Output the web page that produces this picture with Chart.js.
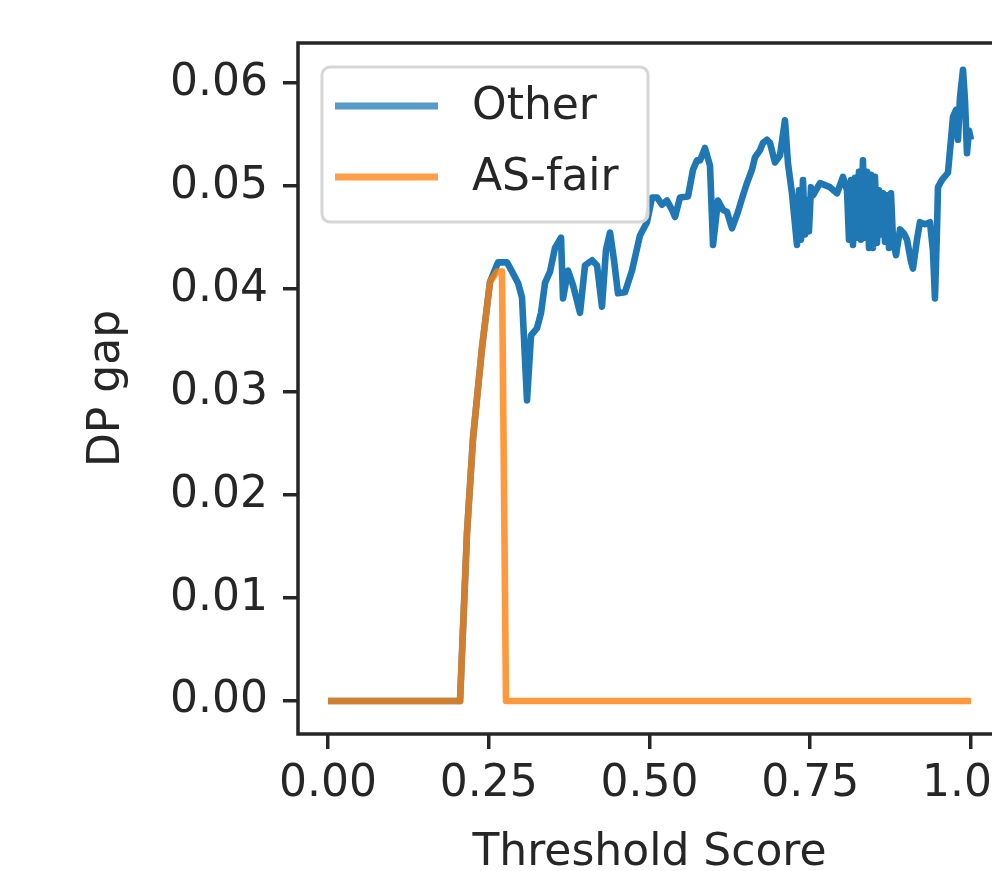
<!DOCTYPE html>
<html>
<head>
<meta charset="utf-8">
<script src="https://cdn.jsdelivr.net/npm/chart.js@4.4.1/dist/chart.umd.min.js"></script>
<style>
  html, body { margin: 0; padding: 0; background: #fff; overflow: hidden; }
  #chart { position: absolute; left: 0; top: 0; }
</style>
</head>
<body>
<canvas id="chart" width="1040" height="871"></canvas>
<script>
const xTicks = [0, 0.25, 0.5, 0.75, 1.0];
const yTicks = [0, 0.01, 0.02, 0.03, 0.04, 0.05, 0.06];

const seriesLabels = ["Other", "AS-fair"];

const otherX = [
  0, 0.2053, 0.2162, 0.2255, 0.2395, 0.2519, 0.2644, 0.2784, 0.2862, 0.2955, 0.3017,
  0.3095, 0.3157, 0.3250, 0.3313, 0.3375, 0.3453, 0.3530, 0.3624, 0.3655, 0.3733,
  0.3810, 0.3919, 0.3997, 0.4106, 0.4184, 0.4261, 0.4323, 0.4386, 0.4448, 0.4510,
  0.4619, 0.4728, 0.4852, 0.4961, 0.5039, 0.5117, 0.5194, 0.5272, 0.5350, 0.5397,
  0.5474, 0.5599, 0.5677, 0.5739, 0.5785, 0.5863, 0.5941, 0.5988, 0.6065, 0.6143,
  0.6205, 0.6283, 0.6376, 0.6454, 0.6516, 0.6594, 0.6641, 0.6719, 0.6765, 0.6827,
  0.6874, 0.6952, 0.7030, 0.7107, 0.7154, 0.7216, 0.7294, 0.7325, 0.7356, 0.7387,
  0.7418, 0.7449, 0.7480, 0.7512, 0.7543, 0.7652, 0.7729, 0.7807, 0.7916, 0.8009,
  0.8072, 0.8103, 0.8134, 0.8165, 0.8196, 0.8227, 0.8258, 0.8289, 0.8320, 0.8351,
  0.8383, 0.8414, 0.8445, 0.8476, 0.8507, 0.8538, 0.8569, 0.8600, 0.8631, 0.8663,
  0.8694, 0.8725, 0.8756, 0.8787, 0.8834, 0.8896, 0.8958, 0.9005, 0.9067, 0.9098,
  0.9160, 0.9207, 0.9285, 0.9362, 0.9409, 0.9440, 0.9471, 0.9487, 0.9549, 0.9642,
  0.9689, 0.9720, 0.9767, 0.9798, 0.9829, 0.9876, 0.9907, 0.9938, 0.9969, 1.0
];
const otherY = [
  0, 0, 0.0164, 0.0255, 0.0343, 0.0407, 0.0426, 0.0426, 0.0417, 0.0406, 0.0392,
  0.0292, 0.0355, 0.0362, 0.0377, 0.0406, 0.0417, 0.0440, 0.0450, 0.0391, 0.0418,
  0.0404, 0.0377, 0.0423, 0.0428, 0.0423, 0.0383, 0.0438, 0.0455, 0.0428, 0.0396,
  0.0397, 0.0418, 0.0452, 0.0465, 0.0489, 0.0489, 0.0482, 0.0486, 0.0477, 0.0470,
  0.0489, 0.0490, 0.0516, 0.0525, 0.0525, 0.0537, 0.0520, 0.0443, 0.0486, 0.0477,
  0.0475, 0.0459, 0.0475, 0.0491, 0.0503, 0.0516, 0.0528, 0.0535, 0.0542, 0.0545,
  0.0542, 0.0523, 0.0530, 0.0564, 0.0522, 0.0493, 0.0443, 0.0496, 0.0448, 0.0506,
  0.0453, 0.0486, 0.0456, 0.0499, 0.0491, 0.0503, 0.0501, 0.0499, 0.0493, 0.0509,
  0.0496, 0.0448, 0.0506, 0.0443, 0.0508, 0.0450, 0.0514, 0.0448, 0.0525, 0.0450,
  0.0514, 0.0440, 0.0511, 0.0440, 0.0509, 0.0445, 0.0496, 0.0453, 0.0493, 0.0446,
  0.0491, 0.0440, 0.0493, 0.0448, 0.0433, 0.0458, 0.0454, 0.0448, 0.0427, 0.0420,
  0.0448, 0.0465, 0.0463, 0.0465, 0.0437, 0.0391, 0.0457, 0.0499, 0.0506, 0.0513,
  0.0545, 0.0567, 0.0574, 0.0545, 0.0586, 0.0613, 0.0583, 0.0532, 0.0554, 0.0545
];

const asFairX = [0, 0.2053, 0.2162, 0.2255, 0.2395, 0.2519, 0.2628, 0.2706, 0.2768, 1.0];
const asFairY = [0, 0, 0.0164, 0.0255, 0.0343, 0.0407, 0.0417, 0.0417, 0, 0];

const FONT = "'DejaVu Sans', sans-serif";
const INK = "#262626";

function points(xs, ys) {
  return xs.map((x, i) => ({ x, y: ys[i] }));
}

const frame = {
  id: "frame",
  afterDraw(chart) {
    const { ctx, chartArea: a } = chart;
    ctx.save();
    ctx.strokeStyle = INK;
    ctx.lineWidth = 3.5;
    ctx.strokeRect(a.left, a.top, a.right - a.left, a.bottom - a.top);
    ctx.restore();
  }
};

const insetLegend = {
  id: "insetLegend",
  afterDatasetsDraw(chart) {
    const { ctx, chartArea: a } = chart;
    const left = a.left + 24;
    const top = a.top + 24;
    const w = 326;
    const h = 155;
    ctx.save();
    ctx.beginPath();
    ctx.roundRect(left, top, w, h, 8);
    ctx.fillStyle = "rgba(255,255,255,0.8)";
    ctx.fill();
    ctx.strokeStyle = "#d6d6d6";
    ctx.lineWidth = 3;
    ctx.stroke();

    chart.data.datasets.forEach((ds, i) => {
      const y = top + 39 + i * 71;
      ctx.beginPath();
      ctx.moveTo(left + 13, y);
      ctx.lineTo(left + 116, y);
      ctx.strokeStyle = ds.legendColor;
      ctx.lineWidth = 7;
      ctx.stroke();
      ctx.fillStyle = INK;
      ctx.font = `44px ${FONT}`;
      ctx.textBaseline = "middle";
      ctx.textAlign = "left";
      ctx.fillText(ds.label, left + 150, y + 2);
    });
    ctx.restore();
  }
};

const tickFont = { family: FONT, size: 44 };

new Chart(document.getElementById("chart"), {
  type: "line",
  data: {
    datasets: [
      {
        label: seriesLabels[0],
        data: points(otherX, otherY),
        order: 2,
        borderColor: "#1f77b4",
        legendColor: "rgba(31,119,180,0.75)",
        borderWidth: 6.6,
        pointRadius: 0,
        tension: 0,
        borderJoinStyle: "round",
        fill: false
      },
      {
        label: seriesLabels[1],
        data: points(asFairX, asFairY),
        order: 1,
        borderColor: "rgba(255,127,14,0.8)",
        legendColor: "rgba(255,127,14,0.75)",
        borderWidth: 6.6,
        pointRadius: 0,
        tension: 0,
        borderJoinStyle: "round",
        fill: false
      }
    ]
  },
  options: {
    responsive: false,
    animation: false,
    devicePixelRatio: 1,
    layout: { padding: { top: 43, right: 39, bottom: 0, left: 0 } },
    plugins: {
      legend: { display: false },
      tooltip: { enabled: false }
    },
    scales: {
      x: {
        type: "linear",
        min: -0.0467,
        max: 1.0467,
        afterBuildTicks: scale => { scale.ticks = xTicks.map(value => ({ value })); },
        afterFit: scale => { scale.height = 137; },
        border: { display: false },
        grid: {
          drawOnChartArea: false,
          drawTicks: true,
          tickLength: 15,
          lineWidth: 3.5,
          color: INK
        },
        ticks: {
          color: INK,
          font: tickFont,
          padding: 9,
          maxRotation: 0,
          autoSkip: false,
          callback: v => Number(v).toFixed(2)
        },
        title: {
          display: true,
          text: "Threshold Score",
          color: INK,
          font: { family: FONT, size: 44, lineHeight: 0.8 },
          padding: 0
        }
      },
      y: {
        min: -0.0032,
        max: 0.0639,
        afterBuildTicks: scale => { scale.ticks = yTicks.map(value => ({ value })); },
        afterFit: scale => { scale.width = 298; },
        border: { display: false },
        grid: {
          drawOnChartArea: false,
          drawTicks: true,
          tickLength: 15,
          lineWidth: 3.5,
          color: INK
        },
        ticks: {
          color: INK,
          font: tickFont,
          padding: 15,
          autoSkip: false,
          callback: v => Number(v).toFixed(2)
        },
        title: {
          display: true,
          text: "DP gap",
          color: INK,
          font: { family: FONT, size: 44, lineHeight: 1 },
          padding: { top: 86, bottom: 0 }
        }
      }
    }
  },
  plugins: [insetLegend, frame]
});
</script>
</body>
</html>
